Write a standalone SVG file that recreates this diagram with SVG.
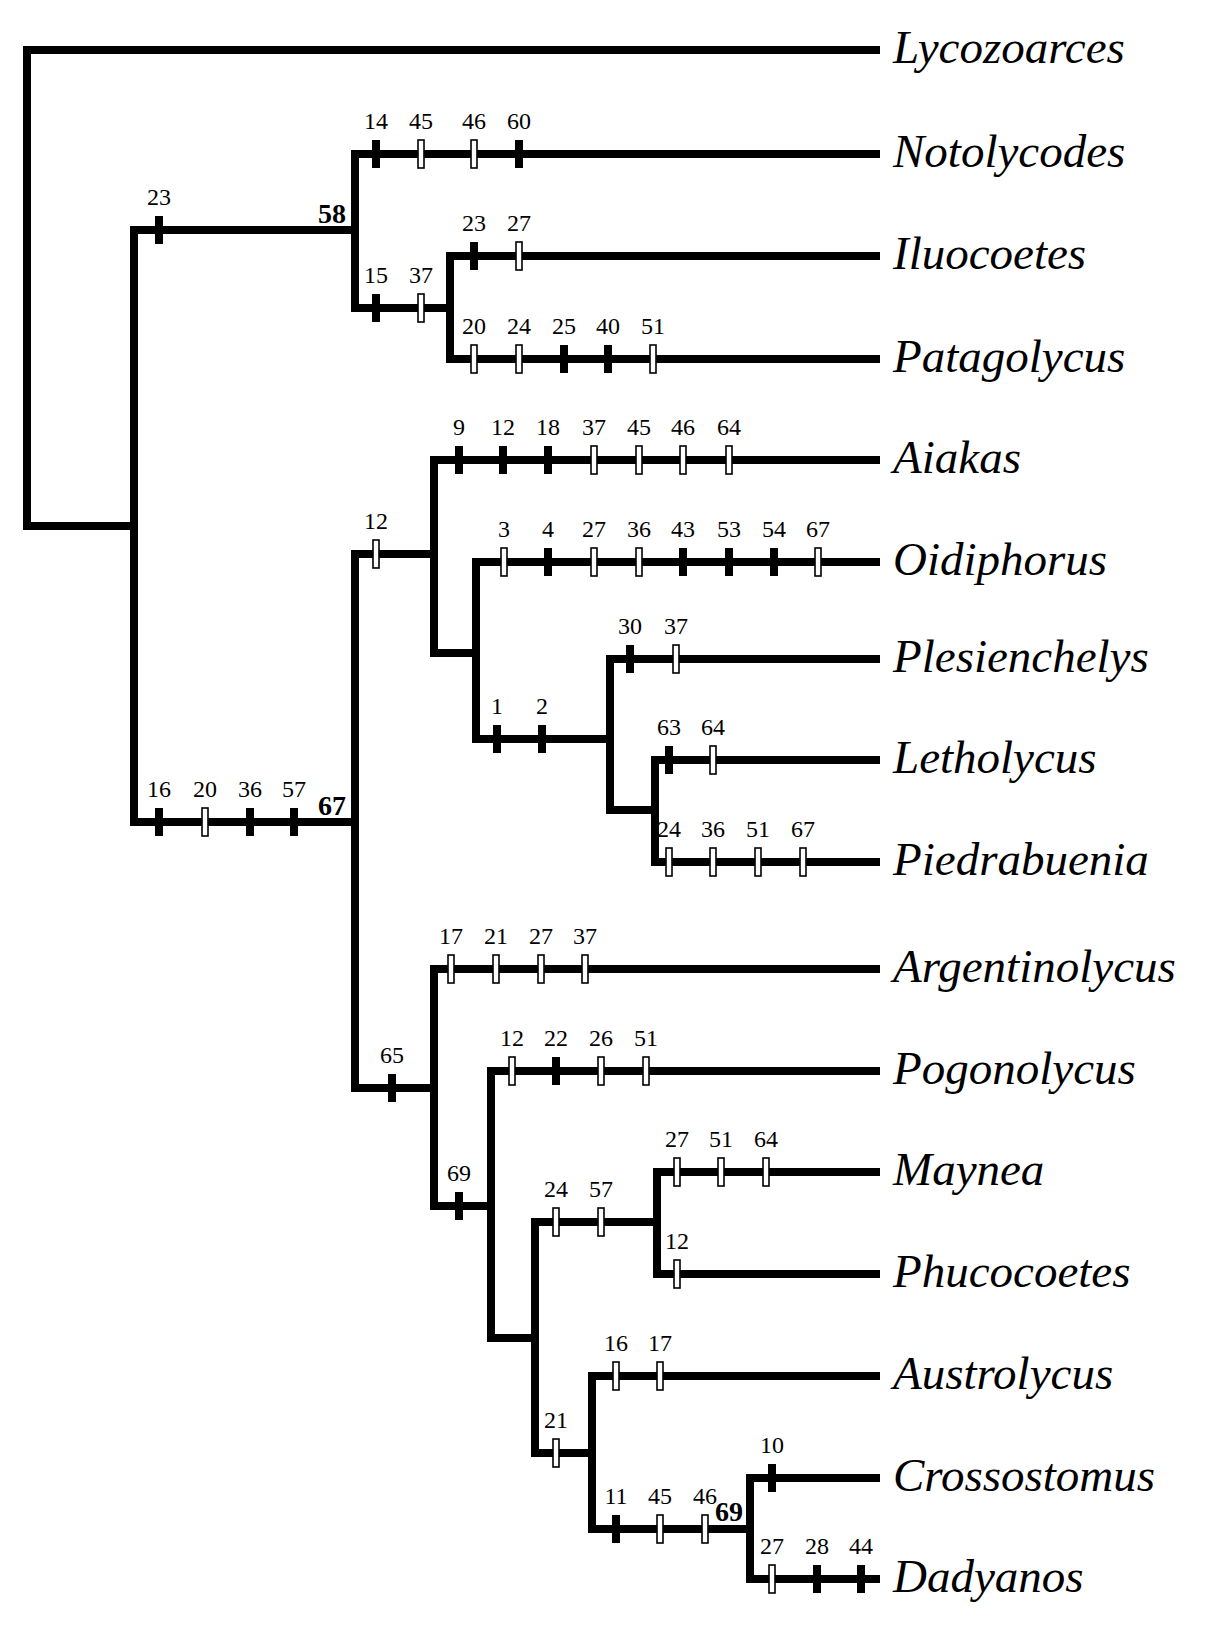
<svg xmlns="http://www.w3.org/2000/svg" width="1205" height="1630" viewBox="0 0 1205 1630">
<style>
.br{fill:none;stroke:#000;stroke-width:8;stroke-linejoin:miter;stroke-linecap:butt}
.f{fill:#000}
.o{fill:#fff;stroke:#000;stroke-width:1.6}
.n{font-family:"Liberation Serif",serif;font-size:24px;text-anchor:middle;fill:#000}
.b{font-family:"Liberation Serif",serif;font-size:28px;font-weight:bold;text-anchor:end;fill:#000}
.t{font-family:"Liberation Serif",serif;font-size:47px;font-style:italic;fill:#000}
</style>
<defs>
<rect id="F" x="-4" y="-14" width="8" height="28" class="f"/>
<rect id="O" x="-3" y="-14" width="6" height="28" class="o"/>
</defs>
<rect width="1205" height="1630" fill="#fff"/>
<g id="connectors">
<path class="br" d="M880,50 H27 V526 H134"/>
<path class="br" d="M355,230 H134 V822 H355"/>
<path class="br" d="M880,154 H355 V308 H450"/>
<path class="br" d="M880,256 H450 V359 H880"/>
<path class="br" d="M434,554 H355 V1088 H434"/>
<path class="br" d="M880,460 H434 V653 H476"/>
<path class="br" d="M880,562 H476 V739 H610"/>
<path class="br" d="M880,659 H610 V810 H655"/>
<path class="br" d="M880,760 H655 V862 H880"/>
<path class="br" d="M880,969 H434 V1206 H491"/>
<path class="br" d="M880,1071 H491 V1338 H535"/>
<path class="br" d="M657,1222 H535 V1453 H592"/>
<path class="br" d="M880,1172 H657 V1274 H880"/>
<path class="br" d="M880,1376 H592 V1529 H750"/>
<path class="br" d="M880,1478 H750 V1579 H880"/>
</g>
<g id="node-outgroup-branch">
<use href="#F" x="159" y="230"/><text class="n" x="159" y="205">23</text>
<text class="b" x="346" y="223">58</text>
</g>
<g id="node-Lycozoarces"><text class="t" x="893" y="63">Lycozoarces</text></g>
<g id="node-Notolycodes">
<use href="#F" x="376" y="154"/><text class="n" x="376" y="129">14</text>
<use href="#O" x="421" y="154"/><text class="n" x="421" y="129">45</text>
<use href="#O" x="474" y="154"/><text class="n" x="474" y="129">46</text>
<use href="#F" x="519" y="154"/><text class="n" x="519" y="129">60</text>
<text class="t" x="893" y="167">Notolycodes</text>
</g>
<g id="node-clade-Ilu-Pat">
<use href="#F" x="376" y="308"/><text class="n" x="376" y="283">15</text>
<use href="#O" x="421" y="308"/><text class="n" x="421" y="283">37</text>
</g>
<g id="node-Iluocoetes">
<use href="#F" x="474" y="256"/><text class="n" x="474" y="231">23</text>
<use href="#O" x="519" y="256"/><text class="n" x="519" y="231">27</text>
<text class="t" x="893" y="269">Iluocoetes</text>
</g>
<g id="node-Patagolycus">
<use href="#O" x="474" y="359"/><text class="n" x="474" y="334">20</text>
<use href="#O" x="519" y="359"/><text class="n" x="519" y="334">24</text>
<use href="#F" x="564" y="359"/><text class="n" x="564" y="334">25</text>
<use href="#F" x="608" y="359"/><text class="n" x="608" y="334">40</text>
<use href="#O" x="653" y="359"/><text class="n" x="653" y="334">51</text>
<text class="t" x="893" y="372">Patagolycus</text>
</g>
<g id="node-ingroup-branch">
<use href="#F" x="159" y="822"/><text class="n" x="159" y="797">16</text>
<use href="#O" x="205" y="822"/><text class="n" x="205" y="797">20</text>
<use href="#F" x="250" y="822"/><text class="n" x="250" y="797">36</text>
<use href="#F" x="294" y="822"/><text class="n" x="294" y="797">57</text>
<text class="b" x="346" y="815">67</text>
</g>
<g id="node-clade-12">
<use href="#O" x="376" y="554"/><text class="n" x="376" y="529">12</text>
</g>
<g id="node-Aiakas">
<use href="#F" x="459" y="460"/><text class="n" x="459" y="435">9</text>
<use href="#F" x="503" y="460"/><text class="n" x="503" y="435">12</text>
<use href="#F" x="548" y="460"/><text class="n" x="548" y="435">18</text>
<use href="#O" x="594" y="460"/><text class="n" x="594" y="435">37</text>
<use href="#O" x="639" y="460"/><text class="n" x="639" y="435">45</text>
<use href="#O" x="683" y="460"/><text class="n" x="683" y="435">46</text>
<use href="#O" x="729" y="460"/><text class="n" x="729" y="435">64</text>
<text class="t" x="893" y="473">Aiakas</text>
</g>
<g id="node-Oidiphorus">
<use href="#O" x="504" y="562"/><text class="n" x="504" y="537">3</text>
<use href="#F" x="548" y="562"/><text class="n" x="548" y="537">4</text>
<use href="#O" x="594" y="562"/><text class="n" x="594" y="537">27</text>
<use href="#O" x="639" y="562"/><text class="n" x="639" y="537">36</text>
<use href="#F" x="683" y="562"/><text class="n" x="683" y="537">43</text>
<use href="#F" x="729" y="562"/><text class="n" x="729" y="537">53</text>
<use href="#F" x="774" y="562"/><text class="n" x="774" y="537">54</text>
<use href="#O" x="818" y="562"/><text class="n" x="818" y="537">67</text>
<text class="t" x="893" y="575">Oidiphorus</text>
</g>
<g id="node-clade-1-2">
<use href="#F" x="497" y="739"/><text class="n" x="497" y="714">1</text>
<use href="#F" x="542" y="739"/><text class="n" x="542" y="714">2</text>
</g>
<g id="node-Plesienchelys">
<use href="#F" x="630" y="659"/><text class="n" x="630" y="634">30</text>
<use href="#O" x="676" y="659"/><text class="n" x="676" y="634">37</text>
<text class="t" x="893" y="672">Plesienchelys</text>
</g>
<g id="node-Letholycus">
<use href="#F" x="669" y="760"/><text class="n" x="669" y="735">63</text>
<use href="#O" x="713" y="760"/><text class="n" x="713" y="735">64</text>
<text class="t" x="893" y="773">Letholycus</text>
</g>
<g id="node-Piedrabuenia">
<use href="#O" x="669" y="862"/><text class="n" x="669" y="837">24</text>
<use href="#O" x="713" y="862"/><text class="n" x="713" y="837">36</text>
<use href="#O" x="758" y="862"/><text class="n" x="758" y="837">51</text>
<use href="#O" x="803" y="862"/><text class="n" x="803" y="837">67</text>
<text class="t" x="893" y="875">Piedrabuenia</text>
</g>
<g id="node-clade-65">
<use href="#F" x="392" y="1088"/><text class="n" x="392" y="1063">65</text>
</g>
<g id="node-Argentinolycus">
<use href="#O" x="451" y="969"/><text class="n" x="451" y="944">17</text>
<use href="#O" x="496" y="969"/><text class="n" x="496" y="944">21</text>
<use href="#O" x="541" y="969"/><text class="n" x="541" y="944">27</text>
<use href="#O" x="585" y="969"/><text class="n" x="585" y="944">37</text>
<text class="t" x="893" y="982">Argentinolycus</text>
</g>
<g id="node-clade-69">
<use href="#F" x="459" y="1206"/><text class="n" x="459" y="1181">69</text>
</g>
<g id="node-Pogonolycus">
<use href="#O" x="512" y="1071"/><text class="n" x="512" y="1046">12</text>
<use href="#F" x="556" y="1071"/><text class="n" x="556" y="1046">22</text>
<use href="#O" x="601" y="1071"/><text class="n" x="601" y="1046">26</text>
<use href="#O" x="646" y="1071"/><text class="n" x="646" y="1046">51</text>
<text class="t" x="893" y="1084">Pogonolycus</text>
</g>
<g id="node-clade-24-57">
<use href="#O" x="556" y="1222"/><text class="n" x="556" y="1197">24</text>
<use href="#O" x="601" y="1222"/><text class="n" x="601" y="1197">57</text>
</g>
<g id="node-Maynea">
<use href="#O" x="677" y="1172"/><text class="n" x="677" y="1147">27</text>
<use href="#O" x="721" y="1172"/><text class="n" x="721" y="1147">51</text>
<use href="#O" x="766" y="1172"/><text class="n" x="766" y="1147">64</text>
<text class="t" x="893" y="1185">Maynea</text>
</g>
<g id="node-Phucocoetes">
<use href="#O" x="677" y="1274"/><text class="n" x="677" y="1249">12</text>
<text class="t" x="893" y="1287">Phucocoetes</text>
</g>
<g id="node-clade-21">
<use href="#O" x="556" y="1453"/><text class="n" x="556" y="1428">21</text>
</g>
<g id="node-Austrolycus">
<use href="#O" x="616" y="1376"/><text class="n" x="616" y="1351">16</text>
<use href="#O" x="660" y="1376"/><text class="n" x="660" y="1351">17</text>
<text class="t" x="893" y="1389">Austrolycus</text>
</g>
<g id="node-clade-Cro-Dad">
<use href="#F" x="616" y="1529"/><text class="n" x="616" y="1504">11</text>
<use href="#O" x="660" y="1529"/><text class="n" x="660" y="1504">45</text>
<use href="#O" x="705" y="1529"/><text class="n" x="705" y="1504">46</text>
<text class="b" x="743" y="1521">69</text>
</g>
<g id="node-Crossostomus">
<use href="#F" x="772" y="1478"/><text class="n" x="772" y="1453">10</text>
<text class="t" x="893" y="1491">Crossostomus</text>
</g>
<g id="node-Dadyanos">
<use href="#O" x="772" y="1579"/><text class="n" x="772" y="1554">27</text>
<use href="#F" x="817" y="1579"/><text class="n" x="817" y="1554">28</text>
<use href="#F" x="861" y="1579"/><text class="n" x="861" y="1554">44</text>
<text class="t" x="893" y="1592">Dadyanos</text>
</g>
</svg>
